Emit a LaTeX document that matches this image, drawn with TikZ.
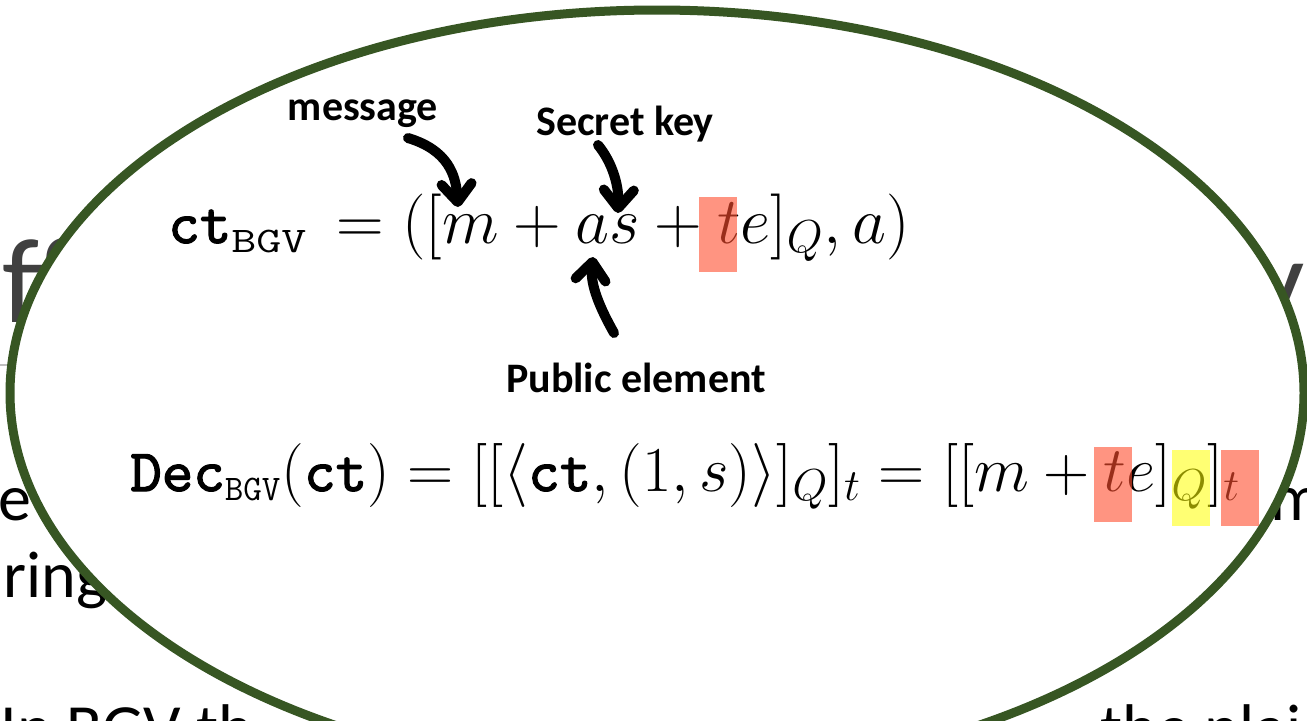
\RequirePackage{fix-cm}
\documentclass[tikz,border=0pt]{standalone}
\usepackage[no-math]{fontspec}
\usepackage{graphicx}
\setmainfont{Carlito}
\newfontfamily\ttheavy{lmmono10-regular.otf}[FakeBold=2]
\usetikzlibrary{arrows.meta}

\definecolor{ovalgreen}{HTML}{375623}
\definecolor{titlegray}{HTML}{404040}
\definecolor{rulegray}{HTML}{BFBFBF}
\definecolor{hlred}{HTML}{FF4E2E}
\definecolor{hlyellow}{HTML}{FFFF00}

% typewriter pieces of the formulas
\newcommand{\tbf}[1]{\mbox{\fontsize{30}{30}\selectfont\ttheavy #1}}
\newcommand{\ttsub}[2]{\mbox{\fontsize{18}{18}\selectfont\ttfamily\scalebox{#1}[1]{#2}}}

\tikzset{
  bgtitle/.style={text=titlegray,font=\fontsize{61}{70}\selectfont,inner sep=0pt},
  bgbody/.style={text=black,font=\fontsize{33}{40}\selectfont,inner sep=0pt},
  lbl/.style={font=\fontsize{21}{25}\selectfont\bfseries,inner sep=0pt},
  eqn/.style={inner sep=0pt,anchor=base west},
  hand/.style={line width=5pt,line cap=round,line join=round,-{Straight Barb[length=9pt,width=15pt,round]}},
  hlr/.style={fill=hlred,fill opacity=0.6},
  hly/.style={fill=hlyellow,fill opacity=0.55}
}

\begin{document}
\begin{tikzpicture}[line cap=round,line join=round,x=0.5pt,y=-0.5pt]
\useasboundingbox (0,0) rectangle (1307,720);
\clip (0,0) rectangle (1307,720);
% slide behind the oval
\node[bgtitle,anchor=base west] (ttlA) at (2,322) {ff};
\node[bgtitle,anchor=base east] (ttlB) at (1305,322) {y};
\draw[rulegray,line width=1pt] (0,365) -- (1307,365);
\node[bgbody,anchor=base east] (bodyA) at (32,520) {e};
\node[bgbody,anchor=base west] (bodyB) at (1270,520) {m};
\node[bgbody,anchor=base west] (bodyC) at (3,597) {ring};
\node[bgbody,anchor=base west] (bodyD) at (0,750) {In BGV th};
\node[bgbody,anchor=base west] (bodyE) at (1100,750) {the plai};
% the oval
\draw[ovalgreen,line width=4.5pt,fill=white] (657,393) ellipse [x radius=647,y radius=383];
% formulas
\node[eqn,font=\fontsize{33}{40}\selectfont] (enc) at (168,243)
  {$\tbf{ct}_{\ttsub{1.35}{BGV}}\, = ([m + as + te]_Q, a)$};
\node[eqn,font=\fontsize{32}{38}\selectfont] (dec) at (130,491)
  {$\tbf{Dec}_{\ttsub{1}{BGV}}(\tbf{ct}) = [[\langle \tbf{ct}, (1, s)\rangle]_Q]_t = [[m + te]_Q]_t$};
% highlights
\fill[hlr] (699,197) rectangle (737,272);
\fill[hlr] (1094,447) rectangle (1132,522);
\fill[hly] (1172,450) rectangle (1210,526);
\fill[hlr] (1221,450) rectangle (1259,526);
% labels and hand arrows
\node[lbl,anchor=base] (msg) at (363,120) {message};
\node[lbl,anchor=base] (sk) at (625,135) {Secret key};
\node[lbl,anchor=base] (pe) at (636,392) {Public element};
\coordinate (msgA) at (408,138);
\coordinate (msgB) at (458,207);
\coordinate (skA) at (598,145);
\coordinate (skB) at (618,213);
\coordinate (peA) at (614,333);
\coordinate (peB) at (593,257);
\draw[hand] (msgA) .. controls (448,150) and (456,175) .. (msgB);
\draw[hand] (skA) .. controls (612,162) and (619,185) .. (skB);
\draw[hand] (peA) .. controls (600,308) and (590,285) .. (peB);
\end{tikzpicture}
\end{document}
